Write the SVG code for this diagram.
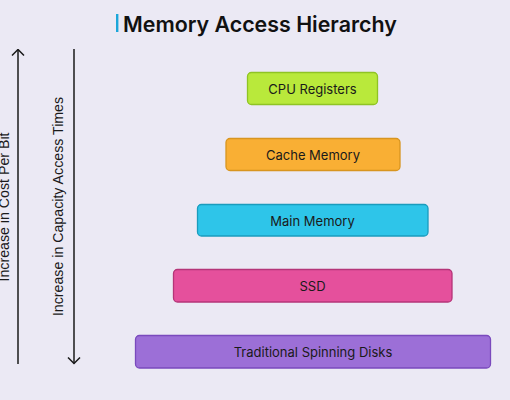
<svg xmlns="http://www.w3.org/2000/svg" width="510" height="400" viewBox="0 0 510 400">
  <defs>
    <marker id="chev" viewBox="0 0 8 14" refX="7" refY="7" markerWidth="8" markerHeight="14" markerUnits="userSpaceOnUse" orient="auto">
      <path d="M1,1 L7,7 L1,13" fill="none" stroke="#1a1a1a" stroke-width="1.5"/>
    </marker>
    <style>
      .bg { fill: #ebe9f4; }
      .title { font-family: Inter, "Liberation Sans", sans-serif; font-size: 21.4px; font-weight: 600; fill: #111; }
      .lbl { font-family: Inter, "Liberation Sans", sans-serif; font-size: 13px; fill: #1a1a1a; text-anchor: middle; dominant-baseline: central; }
      .side { font-family: "Liberation Sans", Arial, sans-serif; font-size: 14.2px; fill: #1a1a1a; text-anchor: middle; }
      .axis { stroke: #1a1a1a; stroke-width: 1.5; fill: none; }
      .box { stroke-width: 1.3; }
    </style>
  </defs>
  <rect class="bg" x="0" y="0" width="510" height="400"/>

  <g id="title">
    <rect x="116" y="14" width="2.4" height="18" fill="#1ba6d9"/>
    <text class="title" x="123" y="31.5">Memory Access Hierarchy</text>
  </g>

  <g id="connectors">
    <line class="axis" x1="18" y1="364" x2="18" y2="49.5" marker-end="url(#chev)"/>
    <line class="axis" x1="74" y1="49" x2="74" y2="363.5" marker-end="url(#chev)"/>
  </g>

  <g id="label-cost">
    <text class="side" transform="translate(8.5,207) rotate(-90)">Increase in Cost Per Bit</text>
  </g>
  <g id="label-capacity">
    <text class="side" transform="translate(63,206.5) rotate(-90)">Increase in Capacity Access Times</text>
  </g>

  <g id="cpu-registers">
    <rect class="box" x="247.5" y="72.5" width="130" height="32" rx="4" fill="#b9e93b" stroke="#8fc424"/>
    <text class="lbl" x="312.5" y="89">CPU Registers</text>
  </g>
  <g id="cache-memory">
    <rect class="box" x="226" y="138.5" width="174" height="32" rx="4" fill="#f9af34" stroke="#d8951f"/>
    <text class="lbl" x="313" y="155">Cache Memory</text>
  </g>
  <g id="main-memory">
    <rect class="box" x="197.5" y="204.5" width="230.5" height="31.5" rx="4" fill="#2ec5e9" stroke="#1a9cbd"/>
    <text class="lbl" x="312.5" y="220.5">Main Memory</text>
  </g>
  <g id="ssd">
    <rect class="box" x="173.5" y="269.5" width="278.5" height="32.5" rx="4" fill="#e5509c" stroke="#b53578"/>
    <text class="lbl" x="312.5" y="286">SSD</text>
  </g>
  <g id="spinning-disks">
    <rect class="box" x="135.5" y="335.5" width="355" height="32.5" rx="4" fill="#9c6fd7" stroke="#7a4abd"/>
    <text class="lbl" x="313" y="352">Traditional Spinning Disks</text>
  </g>
</svg>
